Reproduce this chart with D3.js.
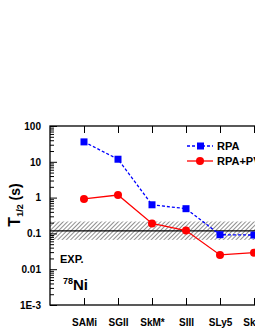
<!DOCTYPE html>
<html>
<head>
<meta charset="utf-8">
<script src="https://cdn.jsdelivr.net/npm/d3@7"></script>
<style>
  body { margin: 0; background: #fff; }
  svg { display: block; font-family: "Liberation Sans", Arial, sans-serif; font-weight: bold; }
</style>
</head>
<body>
<div id="chart"></div>
<script>
const WIDTH = 255;
const HEIGHT = 330;

const forces = ["SAMi", "SGII", "SkM*", "SIII", "SLy5", "SkO'"];
const rpaValues = [36, 11.8, 0.63, 0.49, 0.092, 0.09];
const pvcValues = [0.92, 1.18, 0.19, 0.12, 0.025, 0.029];
const expValue = 0.118;
const expBand = [0.066, 0.215];
const yTickValues = [1e-3, 0.01, 0.1, 1, 10, 100];
const yTickLabels = ["1E-3", "0.01", "0.1", "1", "10", "100"];

const margin = { left: 50, top: 126, bottom: 305 };

const svg = d3.select("#chart")
  .append("svg")
  .attr("width", WIDTH)
  .attr("height", HEIGHT);

const x = d3.scaleLinear().domain([-1, forces.length]).range([margin.left, margin.left + 34 * (forces.length + 1)]);
const y = d3.scaleLog().domain([1e-3, 100]).range([margin.bottom, margin.top]);

const defs = svg.append("defs");
const pattern = defs.append("pattern")
  .attr("id", "hatch")
  .attr("patternUnits", "userSpaceOnUse")
  .attr("width", 3)
  .attr("height", 3)
  .attr("patternTransform", "rotate(45)");
pattern.append("line")
  .attr("x1", 0).attr("y1", 0).attr("x2", 0).attr("y2", 3)
  .attr("stroke", "#333")
  .attr("stroke-width", 1.1);

const plot = svg.append("g");
const x0 = x.range()[0];
const x1 = x.range()[1];

// experimental band + line
plot.append("rect")
  .attr("x", x0)
  .attr("y", y(expBand[1]))
  .attr("width", x1 - x0)
  .attr("height", y(expBand[0]) - y(expBand[1]))
  .attr("fill", "url(#hatch)");

plot.append("line")
  .attr("x1", x0).attr("x2", x1)
  .attr("y1", y(expValue)).attr("y2", y(expValue))
  .attr("stroke", "#000")
  .attr("stroke-width", 1.2);

// axes
const yAxis = d3.axisLeft(y)
  .tickValues(yTickValues)
  .tickFormat((d, i) => yTickLabels[i])
  .tickSize(-7)
  .tickPadding(9);

const minorTicks = [];
for (let e = -3; e < 2; e++) {
  for (let m = 2; m <= 9; m++) minorTicks.push(m * Math.pow(10, e));
}

const yAxisG = svg.append("g")
  .attr("transform", `translate(${x0},0)`)
  .call(yAxis);
yAxisG.select(".domain").remove();
yAxisG.selectAll("text").attr("font-size", 10).attr("font-weight", "bold").attr("fill", "#000");
yAxisG.selectAll("line").attr("stroke-width", 1);

svg.append("g")
  .attr("transform", `translate(${x0},0)`)
  .call(d3.axisLeft(y).tickValues(minorTicks).tickSize(-4).tickFormat(""))
  .call((g) => g.select(".domain").remove());

const idx = forces.map((_, i) => i);
const xBottom = d3.axisBottom(x).tickValues(idx).tickFormat((i) => forces[i]).tickSize(-7).tickPadding(14);
const xBottomG = svg.append("g")
  .attr("transform", `translate(0,${margin.bottom})`)
  .call(xBottom);
xBottomG.select(".domain").remove();
xBottomG.selectAll("text").attr("font-size", 10).attr("font-weight", "bold").attr("fill", "#000");

svg.append("g")
  .attr("transform", `translate(0,${margin.top})`)
  .call(d3.axisTop(x).tickValues(idx).tickSize(-7).tickFormat(""))
  .call((g) => g.select(".domain").remove());

// frame
svg.append("rect")
  .attr("x", x0)
  .attr("y", margin.top)
  .attr("width", x1 - x0)
  .attr("height", margin.bottom - margin.top)
  .attr("fill", "none")
  .attr("stroke", "#000")
  .attr("stroke-width", 1.3);

// series
const line = d3.line().x((d, i) => x(i)).y((d) => y(d));

plot.append("path")
  .datum(rpaValues)
  .attr("d", line)
  .attr("fill", "none")
  .attr("stroke", "#0000ff")
  .attr("stroke-width", 1.3)
  .attr("stroke-dasharray", "3,2");

plot.selectAll(".rpa")
  .data(rpaValues)
  .join("rect")
  .attr("class", "rpa")
  .attr("x", (d, i) => x(i) - 3.5)
  .attr("y", (d) => y(d) - 3.5)
  .attr("width", 7)
  .attr("height", 7)
  .attr("fill", "#0000ff");

plot.append("path")
  .datum(pvcValues)
  .attr("d", line)
  .attr("fill", "none")
  .attr("stroke", "#ff0000")
  .attr("stroke-width", 1.3);

plot.selectAll(".pvc")
  .data(pvcValues)
  .join("circle")
  .attr("class", "pvc")
  .attr("cx", (d, i) => x(i))
  .attr("cy", (d) => y(d))
  .attr("r", 4)
  .attr("fill", "#ff0000");

// legend
const legend = svg.append("g").attr("transform", "translate(187,146)");
const legendItems = [
  { label: "RPA", color: "#0000ff", dash: "3,2", marker: "square" },
  { label: "RPA+PVC", color: "#ff0000", dash: null, marker: "circle" }
];
legendItems.forEach((item, i) => {
  const g = legend.append("g").attr("transform", `translate(0,${i * 15})`);
  g.append("line")
    .attr("x1", 0).attr("x2", 26)
    .attr("stroke", item.color)
    .attr("stroke-width", 1.3)
    .attr("stroke-dasharray", item.dash);
  if (item.marker === "square") {
    g.append("rect").attr("x", 10).attr("y", -3.5).attr("width", 7).attr("height", 7).attr("fill", item.color);
  } else {
    g.append("circle").attr("cx", 13).attr("cy", 0).attr("r", 4).attr("fill", item.color);
  }
  g.append("text")
    .attr("x", 30)
    .attr("y", 4)
    .attr("font-size", 11)
    .text(item.label);
});

// annotations
svg.append("text")
  .attr("x", 60)
  .attr("y", 263)
  .attr("font-size", 11)
  .text("EXP.");

const nuc = svg.append("text")
  .attr("x", 63)
  .attr("y", 290)
  .attr("font-size", 15);
nuc.append("tspan").attr("font-size", 9).attr("dy", -6).text("78");
nuc.append("tspan").attr("dy", 6).text("Ni");

// y label
const yLabel = svg.append("text")
  .attr("transform", "translate(20,205) rotate(-90)")
  .attr("text-anchor", "middle")
  .attr("font-size", 16);
yLabel.append("tspan").text("T");
yLabel.append("tspan").attr("font-size", 9).attr("dy", 3).text("1/2");
yLabel.append("tspan").attr("dy", -3).attr("font-size", 14).text(" (s)");
</script>
</body>
</html>
